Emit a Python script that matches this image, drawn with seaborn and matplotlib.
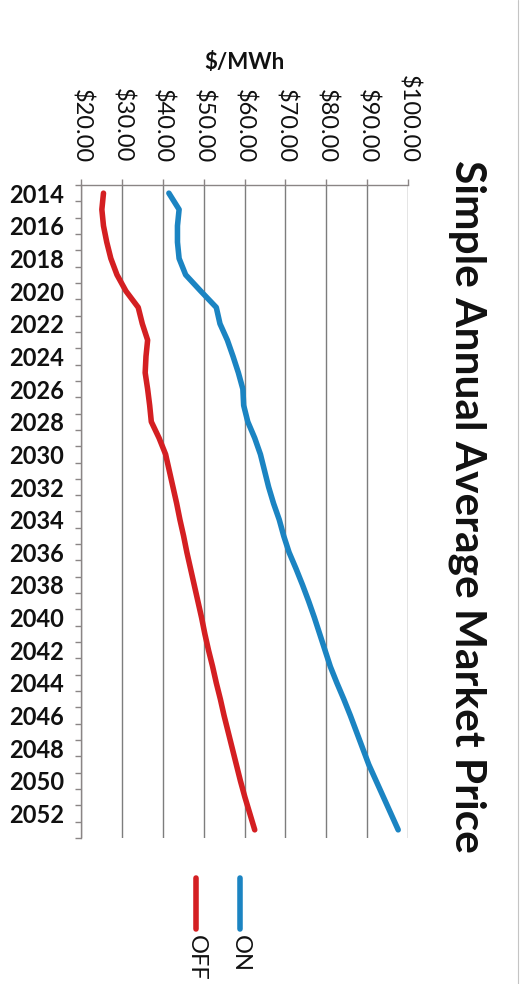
import matplotlib
matplotlib.use("Agg")
import matplotlib.pyplot as plt
import seaborn as sns
import pandas as pd
from matplotlib.lines import Line2D

# Annual average market price, $/MWh
years = list(range(2014, 2054))
on_price = [41.5, 44.0, 43.6, 43.6, 44.0, 45.6, 49.3, 53.1, 54.0, 55.8,
            57.2, 58.5, 59.6, 59.8, 60.8, 62.5, 63.9, 64.9, 65.9, 67.1,
            68.5, 69.6, 70.9, 72.6, 74.2, 75.7, 77.1, 78.4, 79.7, 81.0,
            82.6, 84.3, 85.9, 87.4, 88.9, 90.4, 92.2, 94.0, 95.8, 97.6]
off_price = [25.5, 25.1, 25.5, 26.3, 27.3, 28.8, 31.0, 34.0, 35.0, 36.3,
             35.9, 35.7, 36.3, 36.8, 37.2, 39.1, 40.7, 41.6, 42.5, 43.4,
             44.2, 45.1, 45.9, 46.8, 47.7, 48.6, 49.5, 50.3, 51.2, 52.2,
             53.1, 54.1, 55.0, 56.0, 57.0, 58.0, 59.0, 60.1, 61.3, 62.5]
series_names = ["ON", "OFF"]
price_ticks = [20, 30, 40, 50, 60, 70, 80, 90, 100]
price_labels = ["$20.00", "$30.00", "$40.00", "$50.00", "$60.00",
                "$70.00", "$80.00", "$90.00", "$100.00"]
year_labels = [str(y) for y in range(2014, 2054, 2)]
title = "Simple Annual Average Market Price"
axis_title = "$/MWh"

colors = {"ON": "#1b84c2", "OFF": "#d41f22"}

sns.set_theme(style="white")
plt.rcParams["font.family"] = ["Lato", "DejaVu Sans"]
plt.rcParams["text.parse_math"] = False

W, H = 526, 984
fig = plt.figure(figsize=(W / 100, H / 100), dpi=100)
fig.patch.set_facecolor("white")
ax = fig.add_axes([81 / W, 1 - 838 / H, (408 - 81) / W, (838 - 185) / H])

df = pd.DataFrame({
    "year": years * 2,
    "price": on_price + off_price,
    "series": [series_names[0]] * len(years) + [series_names[1]] * len(years),
})
sns.lineplot(data=df, x="price", y="year", hue="series", palette=colors,
             orient="y", estimator=None, linewidth=4.0, legend=False, ax=ax,
             solid_capstyle="round")

ax.set_xlim(20, 100)
ax.set_ylim(2053.5, 2013.5)

grey = "#8a8585"
ax.xaxis.tick_top()
ax.xaxis.set_label_position("top")
ax.set_xticks(price_ticks)
ax.set_xticklabels(price_labels, rotation=-90, fontsize=17, color="#111111")
ax.tick_params(axis="x", which="major", direction="out", length=4,
               width=1, color=grey, pad=12)
ax.set_xlabel(axis_title, fontsize=16, fontweight="bold", color="#111111",
              labelpad=4)

ax.set_yticks(list(range(2014, 2054, 2)))
ax.set_yticklabels(year_labels, fontsize=17, fontweight="bold",
                   color="#111111")
ax.set_yticks([y - 0.5 for y in years] + [2053.5], minor=True)
ax.tick_params(axis="y", which="major", length=0, pad=12)
ax.tick_params(axis="y", which="minor", direction="out", length=4.5,
               width=1, color=grey, left=True)

ax.grid(axis="x", color="#7d7d7d", linewidth=1.0)
ax.grid(axis="y", visible=False)
for side in ("right", "bottom"):
    ax.spines[side].set_visible(False)
for side in ("top", "left"):
    ax.spines[side].set_color(grey)
    ax.spines[side].set_linewidth(1.0)
ax.set_ylabel("")

fig.text(467 / W, 1 - 506 / H, title, rotation=-90, ha="center",
         va="center", fontsize=30.5, fontweight="bold", color="#111111")

# legend, turned with the rest of the chart
for name, xpx in (("OFF", 196), ("ON", 240)):
    fig.add_artist(Line2D([xpx / W, xpx / W], [1 - 878 / H, 1 - 929 / H],
                          color=colors[name], lw=4.0, solid_capstyle="round"))
    fig.text(xpx / W, 1 - 935 / H, name, rotation=-90, ha="center",
             va="top", fontsize=17, color="#111111")

fig.add_artist(Line2D([518 / W, 518 / W], [0, 1], color="#c4c4c4", lw=0.8))

fig.savefig("out.png", dpi=100, facecolor="white")
